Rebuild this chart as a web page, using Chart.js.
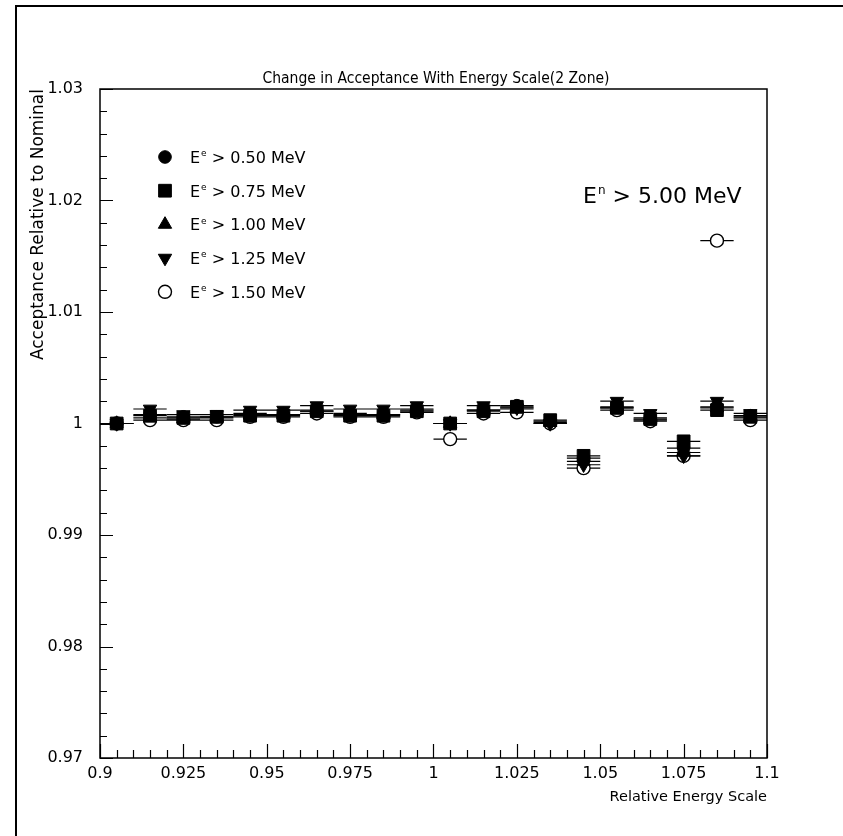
<!DOCTYPE html>
<html>
<head>
<meta charset="utf-8">
<script src="https://cdn.jsdelivr.net/npm/chart.js@4/dist/chart.umd.min.js"></script>
<style>
  html, body { margin: 0; padding: 0; background: #fff; }
  canvas { display: block; }
</style>
</head>
<body>
<canvas id="acc-chart" width="843" height="836"></canvas>
<script>
// relative energy scale bins (centres), each 0.01 wide
const bins = [0.905, 0.915, 0.925, 0.935, 0.945, 0.955, 0.965, 0.975, 0.985, 0.995,
              1.005, 1.015, 1.025, 1.035, 1.045, 1.055, 1.065, 1.075, 1.085, 1.095];
const binHalfWidth = 0.005;

// acceptance relative to nominal, one list per positron threshold
const accE050 = [1.0000, 1.0008, 1.0006, 1.0006, 1.0009, 1.0008, 1.0012, 1.0009, 1.0008, 1.0013,
                 1.0000, 1.0012, 1.0016, 1.0002, 0.9969, 1.0015, 1.0005, 0.9978, 1.0015, 1.0007];
const accE075 = [1.0000, 1.0007, 1.0005, 1.0006, 1.0007, 1.0007, 1.0011, 1.0007, 1.0007, 1.0011,
                 1.0000, 1.0011, 1.0015, 1.0003, 0.9971, 1.0014, 1.0004, 0.9984, 1.0012, 1.0006];
const accE100 = [1.0000, 1.0005, 1.0004, 1.0005, 1.0008, 1.0008, 1.0011, 1.0008, 1.0008, 1.0012,
                 1.0000, 1.0012, 1.0013, 1.0001, 0.9966, 1.0014, 1.0003, 0.9974, 1.0014, 1.0005];
const accE125 = [1.0000, 1.0013, 1.0008, 1.0008, 1.0012, 1.0012, 1.0016, 1.0013, 1.0013, 1.0016,
                 1.0000, 1.0016, 1.0014, 1.0000, 0.9963, 1.0020, 1.0009, 0.9971, 1.0020, 1.0009];
const accE150 = [1.0000, 1.0003, 1.0003, 1.0003, 1.0006, 1.0006, 1.0009, 1.0006, 1.0006, 1.0010,
                 0.9986, 1.0009, 1.0010, 1.0000, 0.9960, 1.0012, 1.0002, 0.9971, 1.0164, 1.0003];

const thresholds = ['0.50', '0.75', '1.00', '1.25', '1.50'];
const neutronCut = '5.00';

const xTicks = [0.9, 0.925, 0.95, 0.975, 1.0, 1.025, 1.05, 1.075, 1.1];
const yTicks = [0.97, 0.98, 0.99, 1.0, 1.01, 1.02, 1.03];

const FONT = '"DejaVu Sans", sans-serif';

// marker look per series (drawn: open circle at the back, down-triangle on top)
const series = [
  {values: accE050, style: 'circle',   radius: 6.3, rotation: 0,   fill: '#000', order: 4},
  {values: accE075, style: 'rect',     radius: 9,   rotation: 0,   fill: '#000', order: 3},
  {values: accE100, style: 'triangle', radius: 7.7, rotation: 0,   fill: '#000', order: 2},
  {values: accE125, style: 'triangle', radius: 7.7, rotation: 180, fill: '#000', order: 1},
  {values: accE150, style: 'circle',   radius: 6.5, rotation: 0,   fill: '#fff', order: 5},
];

const datasets = [];
series.forEach((s, i) => {
  // horizontal bin-width bars, broken between bins
  const bars = [];
  bins.forEach((b, k) => {
    bars.push({x: b - binHalfWidth, y: s.values[k]});
    bars.push({x: b + binHalfWidth, y: s.values[k]});
    bars.push({x: b, y: null});
  });
  datasets.push({
    type: 'scatter',
    data: bars,
    showLine: true,
    spanGaps: false,
    borderColor: '#000',
    borderWidth: 1.2,
    pointRadius: 0,
    order: 10 + i,
  });
  datasets.push({
    type: 'scatter',
    label: 'E > ' + thresholds[i] + ' MeV',
    data: bins.map((b, k) => ({x: b, y: s.values[k]})),
    pointStyle: s.style,
    pointRadius: s.radius,
    pointRotation: s.rotation,
    backgroundColor: s.fill,
    borderColor: '#000',
    borderWidth: s.fill === '#fff' ? 1.4 : 1,
    order: s.order,
    isMarker: true,
  });
});

function drawSupText(ctx, x, y, size, sup, rest) {
  ctx.font = size + 'px ' + FONT;
  ctx.textAlign = 'left';
  ctx.textBaseline = 'alphabetic';
  ctx.fillText('E', x, y);
  let cx = x + ctx.measureText('E').width + 1;
  ctx.font = Math.round(size * 0.55) + 'px ' + FONT;
  ctx.fillText(sup, cx, y - size * 0.42);
  cx += ctx.measureText(sup).width;
  ctx.font = size + 'px ' + FONT;
  ctx.fillText(rest, cx, y);
}

const decor = {
  id: 'decor',
  beforeDraw(chart) {
    const ctx = chart.ctx;
    ctx.save();
    ctx.fillStyle = '#fff';
    ctx.fillRect(0, 0, chart.width, chart.height);
    ctx.restore();
  },
  afterDraw(chart) {
    const {ctx, chartArea: a, scales: {x, y}} = chart;
    ctx.save();
    ctx.strokeStyle = '#000';
    ctx.fillStyle = '#000';

    // page frame (top and left edges)
    ctx.lineWidth = 2;
    ctx.beginPath();
    ctx.moveTo(16, chart.height);
    ctx.lineTo(16, 6);
    ctx.lineTo(chart.width, 6);
    ctx.stroke();

    // plot box
    ctx.lineWidth = 1.5;
    ctx.strokeRect(a.left, a.top, a.right - a.left, a.bottom - a.top);

    // inward ticks: x every 0.005 (major 0.025), y every 0.002 (major 0.01)
    ctx.lineWidth = 1.2;
    ctx.beginPath();
    for (let i = 0; i <= 40; i++) {
      const px = Math.round(x.getPixelForValue(0.9 + i * 0.005)) + 0.5;
      const len = i % 5 === 0 ? 14 : 8;
      ctx.moveTo(px, a.bottom);
      ctx.lineTo(px, a.bottom - len);
    }
    for (let i = 0; i <= 30; i++) {
      const py = Math.round(y.getPixelForValue(0.97 + i * 0.002)) + 0.5;
      const len = i % 5 === 0 ? 13 : 7;
      ctx.moveTo(a.left, py);
      ctx.lineTo(a.left + len, py);
    }
    ctx.stroke();

    // title
    ctx.font = '15.5px "DejaVu Sans Condensed", ' + FONT;
    ctx.textAlign = 'center';
    ctx.textBaseline = 'middle';
    ctx.fillText('Change in Acceptance With Energy Scale(2 Zone)', 436, 79);

    // neutron energy cut
    drawSupText(ctx, 583, 203, 22, 'n', ' > ' + neutronCut + ' MeV');

    // legend
    const markers = chart.data.datasets.filter(d => d.isMarker);
    markers.forEach((d, i) => {
      const ly = 157 + i * 33.7;
      ctx.fillStyle = d.backgroundColor;
      ctx.strokeStyle = '#000';
      ctx.lineWidth = d.borderWidth;
      Chart.helpers.drawPoint(ctx, {
        pointStyle: d.pointStyle,
        radius: d.pointRadius,
        rotation: d.pointRotation,
        borderWidth: d.borderWidth,
      }, 165, ly);
      ctx.fillStyle = '#000';
      drawSupText(ctx, 190, ly + 6, 16, 'e', ' > ' + thresholds[i] + ' MeV');
    });
    ctx.restore();
  }
};

const fmt = v => String(+Number(v).toFixed(3));

new Chart(document.getElementById('acc-chart'), {
  type: 'scatter',
  data: {datasets},
  options: {
    responsive: false,
    animation: false,
    events: [],
    layout: {padding: {left: 15, right: 76, top: 89, bottom: 0}},
    plugins: {legend: {display: false}, tooltip: {enabled: false}, title: {display: false}},
    scales: {
      x: {
        type: 'linear',
        min: 0.9,
        max: 1.1,
        afterBuildTicks: s => { s.ticks = xTicks.map(v => ({value: v})); },
        afterFit: s => { s.height = 78; },
        grid: {display: false, drawTicks: false},
        border: {display: false},
        ticks: {
          padding: 6,
          color: '#000',
          font: {family: FONT, size: 16},
          maxRotation: 0,
          autoSkip: false,
          callback: fmt,
        },
        title: {
          display: true,
          text: 'Relative Energy Scale',
          align: 'end',
          color: '#000',
          font: {family: FONT, size: 14.5},
          padding: {top: 0, bottom: 30},
        },
      },
      y: {
        type: 'linear',
        min: 0.97,
        max: 1.03,
        afterBuildTicks: s => { s.ticks = yTicks.map(v => ({value: v})); },
        afterFit: s => { s.width = 85; },
        grid: {display: false, drawTicks: false},
        border: {display: false},
        ticks: {
          padding: 17,
          color: '#000',
          font: {family: FONT, size: 16},
          autoSkip: false,
          callback: fmt,
        },
        title: {
          display: true,
          text: 'Acceptance Relative to Nominal',
          align: 'end',
          color: '#000',
          font: {family: FONT, size: 17},
          padding: {top: 13, bottom: 0},
        },
      },
    },
  },
  plugins: [decor],
});
</script>
</body>
</html>
